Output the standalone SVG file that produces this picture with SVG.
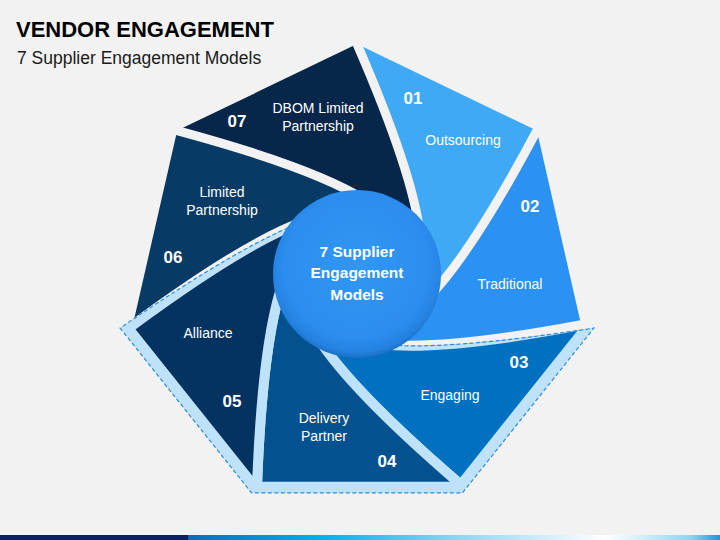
<svg xmlns="http://www.w3.org/2000/svg" width="720" height="540" viewBox="0 0 720 540">
<style>
.lbl{font-family:"Liberation Sans",Arial,sans-serif;font-size:14px;fill:#fff;text-anchor:middle}
.num{font-family:"Liberation Sans",Arial,sans-serif;font-size:17px;font-weight:bold;fill:#fff;text-anchor:middle}
.ctr{font-family:"Liberation Sans",Arial,sans-serif;font-size:15.5px;font-weight:bold;fill:#fff;text-anchor:middle}
.gap{fill:none;stroke:#F2F2F2;stroke-width:9}
.low{stroke:#BEE2FA;stroke-width:10;stroke-linejoin:round}
</style>
<defs>
<path id="W" d="M0,-230 L179.8,-143.4 Q113.9,-19.2 70.6,24.4 L0,0 L63,-40 Q56,-101 0,-230 Z"/>
<path id="WE" d="M0,-236 L184.5,-147.1 L179.8,-143.4 Q113.9,-19.2 70.6,24.4 L0,0 L63,-40 Q56,-101 0,-230 Z"/>
<path id="G" d="M-6,-244 L0,-230 Q56,-101 63,-40 L0,0"/>
<path id="band" d="M357,274 L382,344.3 Q443,351.1 593.9,328.1 L462.4,492.9 L251.6,492.9 L120.1,328.1 Q246.1,241.9 304,221.5 Z"/>
<clipPath id="bandClip"><use href="#band"/></clipPath>
<radialGradient id="cg" cx="0.5" cy="0.45" r="0.56">
<stop offset="0" stop-color="#3197F3"/>
<stop offset="0.78" stop-color="#2C8DEE"/>
<stop offset="0.92" stop-color="#2481DF"/>
<stop offset="1" stop-color="#1A69BD"/>
</radialGradient>
<linearGradient id="bar" gradientUnits="userSpaceOnUse" x1="0" y1="0" x2="720" y2="0">
<stop offset="0" stop-color="#0C2163"/>
<stop offset="0.261" stop-color="#0C2163"/>
<stop offset="0.262" stop-color="#0A6CBE"/>
<stop offset="0.446" stop-color="#00B0F0"/>
<stop offset="0.64" stop-color="#8DD8F4"/>
<stop offset="0.84" stop-color="#FFFFFF"/>
<stop offset="0.9" stop-color="#C8EDF9"/>
<stop offset="0.96" stop-color="#8AD5F4"/>
<stop offset="1" stop-color="#1E96DE"/>
</linearGradient>
</defs>
<rect width="720" height="540" fill="#F2F2F2"/>
<text x="16" y="37" font-family="Liberation Sans, Arial, sans-serif" font-size="22" font-weight="bold" fill="#000">VENDOR ENGAGEMENT</text>
<text x="17" y="64" font-family="Liberation Sans, Arial, sans-serif" font-size="17.5" fill="#1A1A1A">7 Supplier Engagement Models</text>

<g id="seg01"><use href="#W" transform="translate(357,274)" fill="#3FA9F5"/></g>
<g id="seg02"><use href="#W" transform="translate(357,274) rotate(51.43)" fill="#2B91F2"/></g>
<g id="seg06"><use href="#W" transform="translate(357,274) rotate(257.14)" fill="#073A64"/></g>
<g id="seg07"><use href="#W" transform="translate(357,274) rotate(308.57)" fill="#06264A"/></g>

<g id="connectors">
<use href="#G" class="gap" transform="translate(357,274)"/>
<use href="#G" class="gap" transform="translate(357,274) rotate(51.43)"/>
<use href="#G" class="gap" style="stroke-width:10" transform="translate(357,274) rotate(102.86)"/>
<use href="#G" class="gap" style="stroke-width:10" transform="translate(357,274) rotate(257.14)"/>
<use href="#G" class="gap" transform="translate(357,274) rotate(308.57)"/>
</g>

<g id="bandFill"><use href="#band" fill="#BEE2FA"/></g>

<g id="seg03" clip-path="url(#bandClip)"><use href="#WE" class="low" transform="translate(357,274) rotate(102.86)" fill="#0070C0"/></g>
<g id="seg04" clip-path="url(#bandClip)"><use href="#WE" class="low" transform="translate(357,274) rotate(154.29)" fill="#03528F"/></g>
<g id="seg05" clip-path="url(#bandClip)"><use href="#WE" class="low" transform="translate(357,274) rotate(205.71)" fill="#043361"/></g>

<g id="bandOutline"><use href="#band" fill="none" stroke="#2E8AE0" stroke-width="1.2" stroke-dasharray="4 2.5"/></g>

<g id="center">
<circle cx="357" cy="274" r="84" fill="url(#cg)"/>
<text class="ctr" x="357" y="257">7 Supplier</text>
<text class="ctr" x="357" y="278">Engagement</text>
<text class="ctr" x="357" y="300">Models</text>
</g>

<g id="label01"><text class="num" x="413" y="104">01</text><text class="lbl" x="463" y="145">Outsourcing</text></g>
<g id="label02"><text class="num" x="530" y="212">02</text><text class="lbl" x="510" y="289">Traditional</text></g>
<g id="label03"><text class="num" x="519" y="368">03</text><text class="lbl" x="450" y="400">Engaging</text></g>
<g id="label04"><text class="num" x="387" y="467">04</text><text class="lbl" x="324" y="423">Delivery</text><text class="lbl" x="324" y="441">Partner</text></g>
<g id="label05"><text class="num" x="232" y="407">05</text><text class="lbl" x="208" y="338">Alliance</text></g>
<g id="label06"><text class="num" x="173" y="263">06</text><text class="lbl" x="222" y="197">Limited</text><text class="lbl" x="222" y="215">Partnership</text></g>
<g id="label07"><text class="num" x="237" y="127">07</text><text class="lbl" x="318" y="113">DBOM Limited</text><text class="lbl" x="318" y="131">Partnership</text></g>

<rect x="0" y="535" width="720" height="5" fill="url(#bar)"/>
</svg>
